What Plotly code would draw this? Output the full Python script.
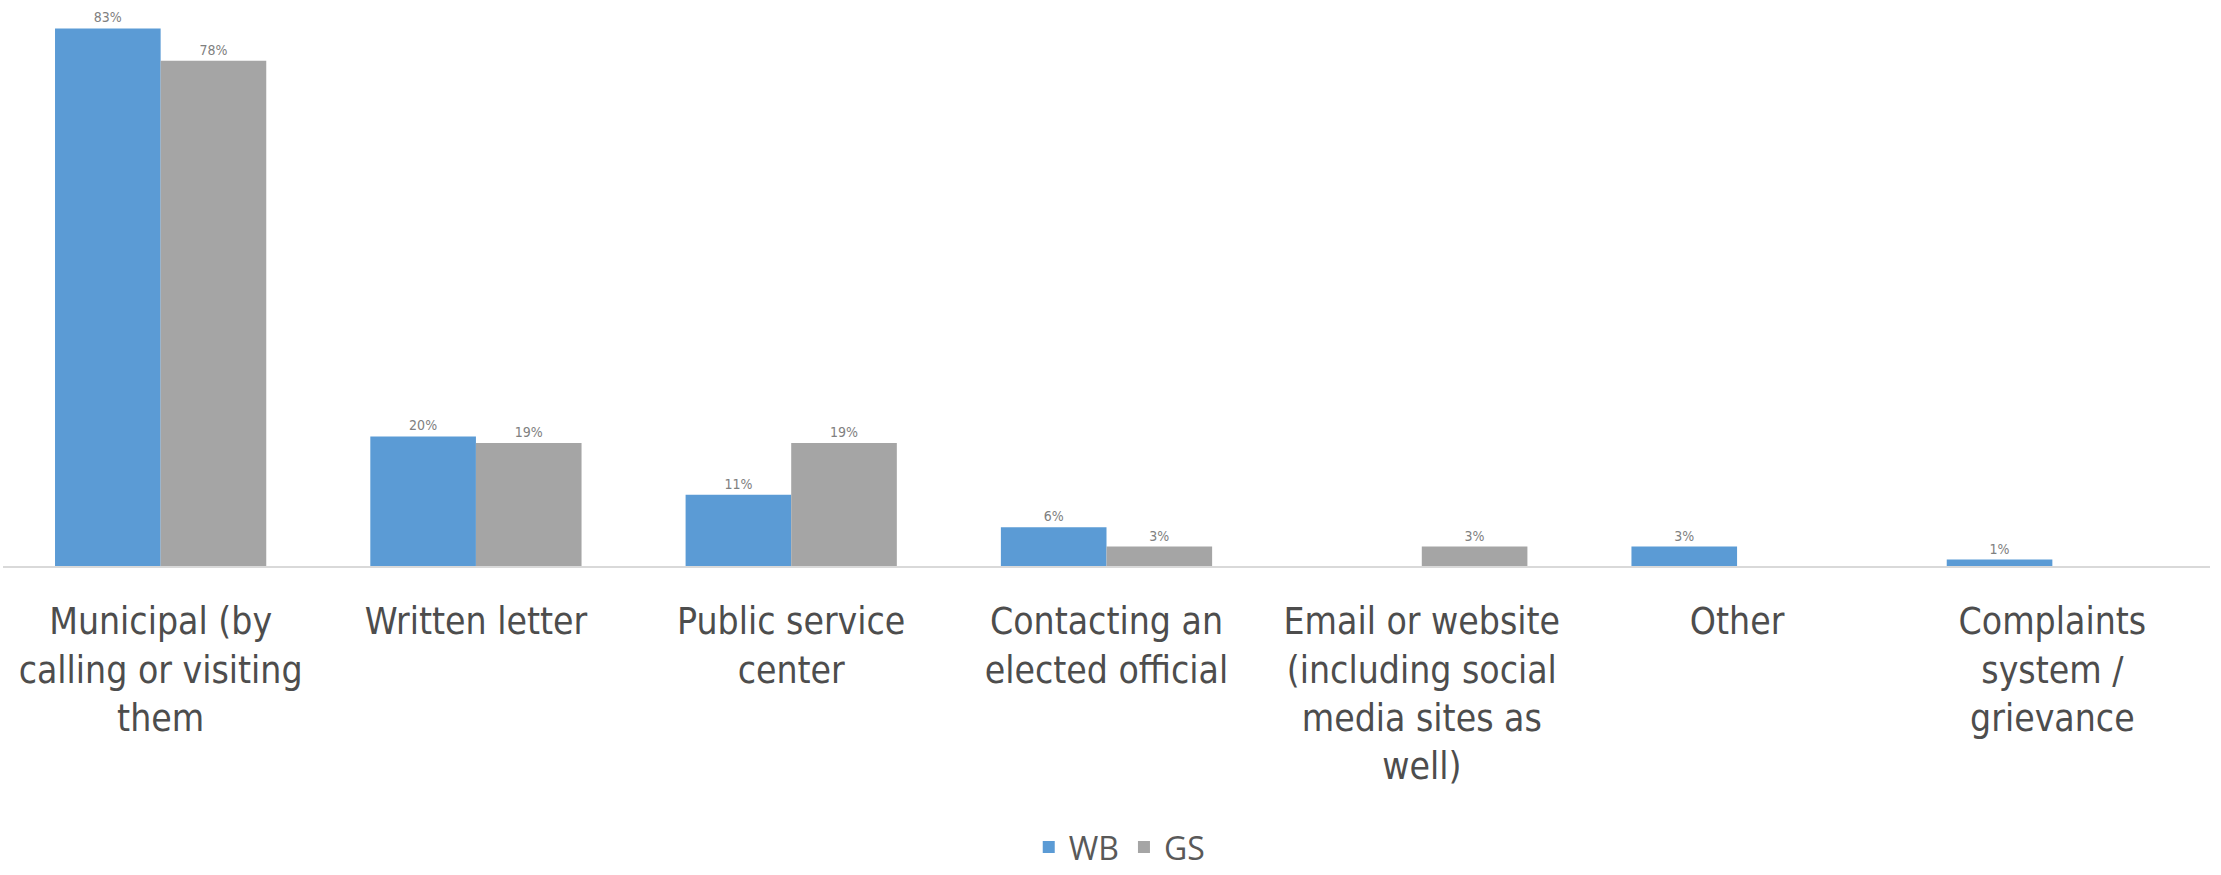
import plotly.graph_objects as go

categories = [
    "Municipal (by<br>calling or visiting<br>them",
    "Written letter",
    "Public service<br>center",
    "Contacting an<br>elected official",
    "Email or website<br>(including social<br>media sites as<br>well)",
    "Other",
    "Complaints<br>system /<br>grievance",
]
wb_values = [83, 20, 11, 6, None, 3, 1]
gs_values = [78, 19, 19, 3, 3, None, None]

WB_COLOR = "#5B9BD5"
GS_COLOR = "#A5A5A5"
LABEL_FONT = "Liberation Sans Narrow, DejaVu Sans Condensed, Arial Narrow, sans-serif"


def pct_labels(vals):
    return [f"{v}%" if v is not None else "" for v in vals]


fig = go.Figure()
fig.add_trace(go.Bar(
    name="WB", x=categories, y=wb_values, marker_color=WB_COLOR,
    marker_line_width=0,
    text=pct_labels(wb_values), textposition="outside",
    textfont=dict(size=14, color="#808080", family=LABEL_FONT),
    cliponaxis=False,
))
fig.add_trace(go.Bar(
    name="GS", x=categories, y=gs_values, marker_color=GS_COLOR,
    marker_line_width=0,
    text=pct_labels(gs_values), textposition="outside",
    textfont=dict(size=14, color="#808080", family=LABEL_FONT),
    cliponaxis=False,
))

fig.update_layout(
    width=2221, height=875,
    margin=dict(l=3, r=11, t=0, b=304),
    paper_bgcolor="white", plot_bgcolor="white",
    barmode="group", bargap=0.33, bargroupgap=0,
    showlegend=True,
    legend=dict(
        orientation="h", x=0.506, xanchor="center", y=-0.497, yanchor="middle",
        font=dict(size=32, color="#595959", family="Open Sans, sans-serif"),
        itemwidth=30, traceorder="normal",
    ),
    xaxis=dict(
        showline=True, linecolor="#D9D9D9", linewidth=2,
        showgrid=False, ticks="", ticklabelstandoff=22,
        tickfont=dict(size=37, color="#4D4D4D", family=LABEL_FONT),
    ),
    yaxis=dict(
        range=[0, 87.4], visible=False, showgrid=False, zeroline=False,
    ),
)

fig.write_html("out.html")
